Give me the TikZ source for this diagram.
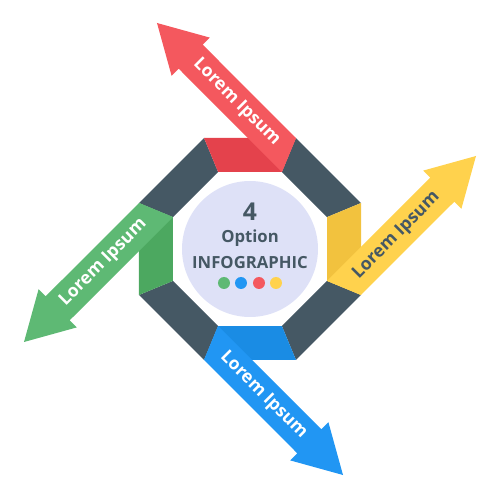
\documentclass[tikz,border=0pt]{standalone}
\usepackage{fontspec}
\setmainfont{Open Sans}
\usetikzlibrary{calc}
\definecolor{slate}{RGB}{69,88,100}
\definecolor{circfill}{RGB}{222,225,247}
\definecolor{redlight}{RGB}{244,88,94}
\definecolor{reddark}{RGB}{228,66,76}
\definecolor{yellight}{RGB}{255,210,77}
\definecolor{yeldark}{RGB}{242,194,62}
\definecolor{grnlight}{RGB}{94,185,116}
\definecolor{grndark}{RGB}{76,168,96}
\definecolor{blulight}{RGB}{33,150,243}
\definecolor{bludark}{RGB}{26,140,228}

\tikzset{
  lbl/.style={font=\bfseries\fontsize{10}{12}\selectfont, inner sep=0pt},
  centretext/.style={font=\bfseries\fontsize{9.5}{11}\selectfont, text=slate, inner sep=0pt}
}

\begin{document}
\begin{tikzpicture}[x=0.02cm,y=0.02cm]
  \useasboundingbox (-250,-251) rectangle (250,249);
  % dark corner blocks of the octagon
  \foreach \a in {45,135,225,315}
    \fill[slate] (\a-22.5:120.15) -- (\a+22.5:120.15) -- (\a+22.5:83.35) -- (\a-22.5:83.35) -- cycle;
  % coloured sides with their arrows
  \foreach \ang/\dk/\lt/\tc/\ta/\nm in {0/yeldark/yellight/slate/45/yel, 90/reddark/redlight/white/-45/red,
      180/grndark/grnlight/white/45/grn, 270/bludark/blulight/white/-45/blu} {
    \begin{scope}[rotate=\ang]
      \fill[\dk] (-22.5:120.15) -- (22.5:120.15) -- (22.5:83.35) -- (-22.5:83.35) -- cycle;
      \fill[\lt] (-22.5:83.35) -- (180.3,71.3) -- (173.2,78.4) -- (226,93) -- (211.4,40.2)
        -- (204.3,47.3) -- (-22.5:120.15) -- cycle;
      \node[lbl,text=\tc,rotate=\ta] (lab\nm) at (146.5,13.5) {Lorem Ipsum};
    \end{scope}
  }
  % centre disc
  \fill[circfill] (0,0) circle (68);
  \node[centretext,font=\bfseries\fontsize{14}{16}\selectfont] (four) at (0,37) {4};
  \node[centretext] (option) at (0,11) {Option};
  \node[centretext] (infog) at (0,-14) {INFOGRAPHIC};
  \foreach \x/\c in {-26/grnlight, -9/blulight, 9/redlight, 26/yellight}
    \fill[\c] (\x,-34) circle (6);
\end{tikzpicture}
\end{document}
